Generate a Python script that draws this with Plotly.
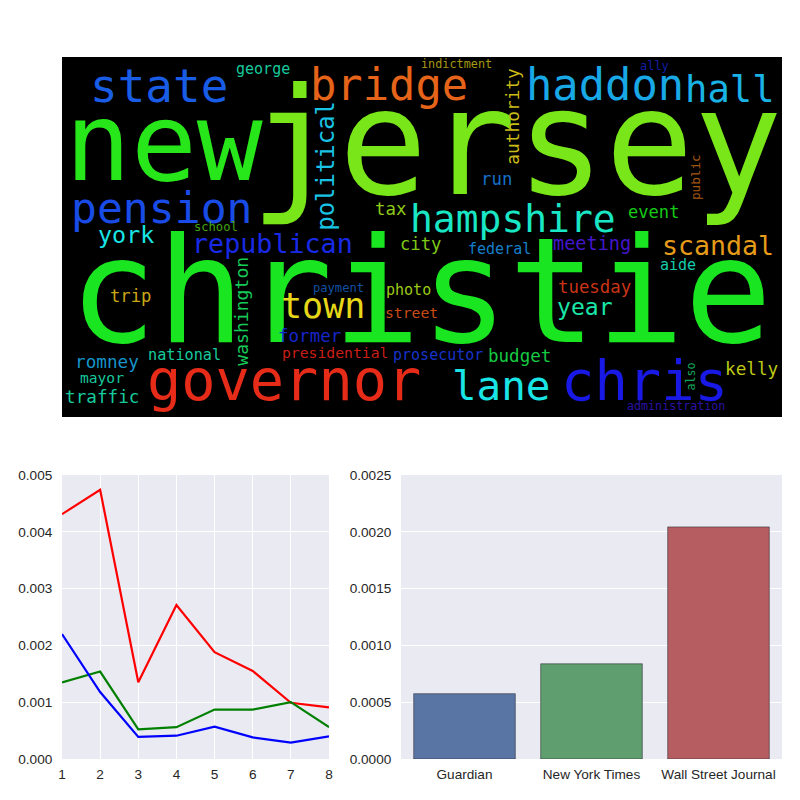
import plotly.graph_objects as go

# ---------------- data ----------------
# word cloud: words and their relative weights (largest = 1.0)
cloud_words = ["christie", "jersey", "new", "governor", "chris", "state", "bridge", "haddon",
               "pension", "hampshire", "lane", "hall", "town", "republican", "scandal",
               "political", "york", "year", "meeting", "authority", "washington", "trip",
               "traffic", "romney", "budget", "former", "kelly", "tuesday", "run", "tax",
               "event", "city", "george", "national", "federal", "photo", "prosecutor",
               "presidential", "street", "aide", "mayor", "public", "school", "payment",
               "ally", "indictment", "administration", "also"]
cloud_weights = [1.0, 1.01, 0.75, 0.39, 0.38, 0.315, 0.30, 0.30,
                 0.295, 0.26, 0.28, 0.255, 0.24, 0.183, 0.182,
                 0.164, 0.16, 0.158, 0.127, 0.122, 0.124, 0.118,
                 0.121, 0.121, 0.12, 0.12, 0.121, 0.119, 0.119, 0.119,
                 0.117, 0.118, 0.103, 0.104, 0.103, 0.103, 0.103,
                 0.101, 0.101, 0.103, 0.1, 0.087, 0.083, 0.083,
                 0.082, 0.081, 0.08, 0.08]

# line chart
line_x = [1, 2, 3, 4, 5, 6, 7, 8]
series_red = [0.00431, 0.00474, 0.00135, 0.00271, 0.00188, 0.00155, 0.00099, 0.00091]
series_green = [0.00135, 0.00154, 0.00052, 0.00056, 0.00087, 0.00087, 0.00100, 0.00056]
series_blue = [0.00220, 0.00118, 0.00039, 0.00041, 0.00057, 0.00038, 0.00029, 0.00040]

# bar chart
bar_categories = ["Guardian", "New York Times", "Wall Street Journal"]
bar_values = [0.000575, 0.000838, 0.002043]

# ---------------- cloud layout (pixel positions inside the picture) ----------------
# word -> (centre along text, baseline, rotated, hue)
CLOUD_LAYOUT = {
    "christie": (420, 342, False, 122), "jersey": (516, 194, False, 92),
    "new": (163.5, 180, False, 116), "governor": (284, 400, False, 5),
    "chris": (644, 400, False, 240), "state": (159, 101.7, False, 220),
    "bridge": (388.5, 100, False, 22), "haddon": (605, 100, False, 198),
    "pension": (161.5, 223, False, 225), "hampshire": (513, 232, False, 170),
    "lane": (500.5, 400, False, 180), "hall": (730, 101.7, False, 195),
    "town": (322.5, 318, False, 56), "republican": (272.5, 253, False, 235),
    "scandal": (718, 255, False, 38), "political": (166, 334, True, 190),
    "york": (125.5, 243, False, 180), "year": (585, 315, False, 162),
    "meeting": (591.5, 250, False, 255), "authority": (115.8, 519, True, 55),
    "washington": (311, 247, True, 142), "trip": (130, 302, False, 48),
    "traffic": (101.5, 403, False, 165), "romney": (106.5, 368, False, 198),
    "budget": (519, 362, False, 135), "former": (309, 342, False, 235),
    "kelly": (751, 375, False, 64), "tuesday": (594, 293, False, 10),
    "run": (496.7, 185, False, 210), "tax": (390, 215, False, 80),
    "event": (653, 218, False, 120), "city": (420, 250, False, 85),
    "george": (263, 74, False, 165), "national": (184, 360, False, 165),
    "federal": (499, 254, False, 205), "photo": (408, 295, False, 75),
    "prosecutor": (437.5, 360, False, 230), "presidential": (335, 358, False, 3),
    "street": (411, 318, False, 18), "aide": (677.5, 270, False, 170),
    "mayor": (101.5, 383, False, 165), "public": (177.5, 700, True, 28),
    "school": (216, 231, False, 100), "payment": (338, 292, False, 215),
    "ally": (654, 70, False, 235), "indictment": (456.7, 68, False, 55),
    "administration": (676, 410, False, 250), "also": (376.5, 695, True, 150),
}
MAX_FONT = 146

fig = go.Figure()

# ---------------- word cloud ----------------
fig.add_shape(type="rect", xref="x3", yref="y3", x0=62, x1=782, y0=57, y1=417,
              fillcolor="black", line=dict(width=0), layer="below")
annotations = []
for w, wt in zip(cloud_words, cloud_weights):
    a, b, rot, hue = CLOUD_LAYOUT[w]
    s = wt * MAX_FONT
    light = 50 if s >= 20 else (44 if s >= 14 else 36)
    if rot:
        cx, cy = b - 0.346 * s, a
    else:
        cx, cy = a, b - 0.346 * s
    annotations.append(dict(
        x=cx, y=cy, xref="x3", yref="y3", text=w, showarrow=False,
        xanchor="center", yanchor="middle", textangle=-90 if rot else 0,
        font=dict(family="DejaVu Sans Mono", size=s, color=f"hsl({hue},80%,{light}%)"),
        borderpad=0,
    ))
fig.add_trace(go.Scatter(x=[62, 782], y=[57, 417], mode="markers",
                         marker=dict(opacity=0), xaxis="x3", yaxis="y3",
                         hoverinfo="skip", showlegend=False))

# ---------------- line chart ----------------
for ys, col in [(series_red, "#ff0000"), (series_green, "#008000"), (series_blue, "#0000ff")]:
    fig.add_trace(go.Scatter(x=line_x, y=ys, mode="lines", line=dict(color=col, width=2.2),
                             xaxis="x", yaxis="y", showlegend=False))

# ---------------- bar chart ----------------
fig.add_trace(go.Bar(x=bar_categories, y=bar_values, width=0.8,
                     marker=dict(color=["#5975A4", "#5F9E6E", "#B55D60"],
                                 line=dict(color="rgba(40,40,50,0.55)", width=1)),
                     xaxis="x2", yaxis="y2", showlegend=False))

tickfont = dict(family="Liberation Sans, Arial", size=13.6, color="#262626")
common = dict(automargin=False, zeroline=False, showline=False, tickfont=tickfont,
              ticks="outside", tickcolor="rgba(0,0,0,0)")
fig.update_layout(
    width=800, height=800, margin=dict(l=0, r=0, t=0, b=0, autoexpand=False),
    paper_bgcolor="white", plot_bgcolor="#EAEAF2",
    showlegend=False,
    annotations=annotations,
    xaxis=dict(domain=[62 / 800, 329 / 800], range=[1, 8], tickvals=line_x, anchor="y",
               showgrid=True, gridcolor="white", gridwidth=1.3, ticklen=3, **common),
    yaxis=dict(domain=[1 - 759 / 800, 1 - 475 / 800], range=[0, 0.005], anchor="x",
               tickvals=[0, 0.001, 0.002, 0.003, 0.004, 0.005], tickformat=".3f",
               showgrid=True, gridcolor="white", gridwidth=1.3, ticklen=6, **common),
    xaxis2=dict(domain=[401 / 800, 782 / 800], range=[-0.5, 2.5], anchor="y2",
                showgrid=False, ticklen=3, **common),
    yaxis2=dict(domain=[1 - 759 / 800, 1 - 475 / 800], range=[0, 0.0025], anchor="x2",
                tickvals=[0, 0.0005, 0.001, 0.0015, 0.002, 0.0025], tickformat=".4f",
                showgrid=True, gridcolor="white", gridwidth=1.3, ticklen=6, **common),
    xaxis3=dict(domain=[62 / 800, 782 / 800], range=[62, 782], anchor="y3",
                visible=False, fixedrange=True, automargin=False),
    yaxis3=dict(domain=[1 - 417 / 800, 1 - 57 / 800], range=[417, 57], anchor="x3",
                visible=False, fixedrange=True, automargin=False),
)

fig.write_html("out.html")
